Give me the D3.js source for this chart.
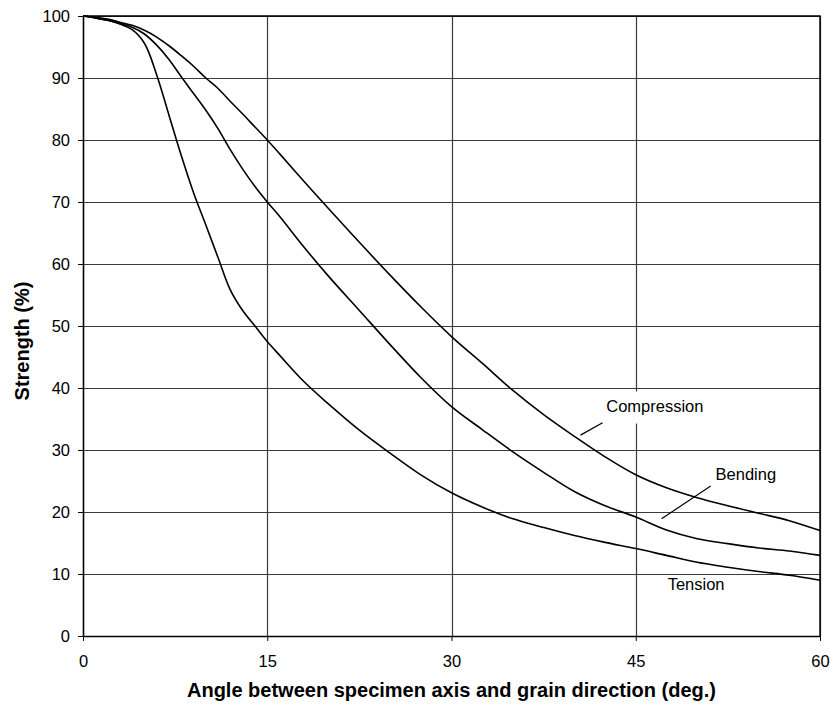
<!DOCTYPE html>
<html>
<head>
<meta charset="utf-8">
<script src="https://cdn.jsdelivr.net/npm/d3@7"></script>
<style>
  body { margin: 0; background: #fff; }
  svg text { font-family: "Liberation Sans", Arial, sans-serif; fill: #000; }
  .tick text { font-size: 16.5px; }
  .axis-title { font-size: 20px; font-weight: bold; }
  .curve-label { font-size: 16.5px; }
</style>
</head>
<body>
<div id="chart"></div>
<script>
// angle (deg.) at which each strength value was read
var angles = [0, 1, 2, 3, 4, 5, 6, 7, 8, 9, 10, 11, 12, 13, 14, 15, 16, 18, 20, 22.5, 25, 27.5, 30,
              32.5, 35, 37.5, 40, 42.5, 45, 47.5, 50, 52.5, 55, 57.5, 60];

// strength (%) per curve
var compression = [100, 99.8, 99.5, 99.0, 98.5, 97.7, 96.6, 95.2, 93.6, 91.9, 90.0, 88.3, 86.2, 84.2, 82.1, 80.0,
                   77.8, 73.3, 68.9, 63.5, 58.2, 53.1, 48.3, 44.0, 39.6, 35.7, 32.2, 28.9, 26.0, 23.9,
                   22.3, 21.0, 19.8, 18.6, 17.0];
var bending = [100, 99.7, 99.3, 98.8, 98.2, 97.1, 95.3, 93.0, 90.2, 87.5, 84.8, 81.8, 78.4, 75.3, 72.5, 70.0,
               67.7, 62.7, 58.0, 52.5, 47.0, 41.7, 37.0, 33.3, 29.7, 26.4, 23.3, 21.0, 19.2, 17.1,
               15.7, 14.9, 14.2, 13.7, 13.0];
var tension = [100, 99.7, 99.3, 98.7, 97.8, 95.6, 90.5, 84.0, 77.5, 71.5, 66.3, 61.0, 55.8, 52.5, 50.0, 47.5,
               45.3, 41.0, 37.4, 33.2, 29.5, 26.0, 23.1, 20.8, 18.9, 17.5, 16.2, 15.1, 14.1, 13.0,
               11.9, 11.1, 10.4, 9.8, 9.0];

var xTicks = [0, 15, 30, 45, 60];
var yTicks = [0, 10, 20, 30, 40, 50, 60, 70, 80, 90, 100];

// curve labels: text, label position, leader line (all in data units)
var labels = [
  {name: "Compression", x: 42.6, y: 36.2, lead: [[40.5, 32.4], [42.3, 34.4]], box: true},
  {name: "Bending",     x: 51.5, y: 25.2, lead: [[47.1, 18.9], [51.1, 24.2]], box: false},
  {name: "Tension",     x: 47.6, y: 7.5,  lead: null, box: false}
];

var W = 830, H = 704;
var margin = {top: 16, right: 10, bottom: 68, left: 83};

var x = d3.scaleLinear().domain([0, 60]).range([margin.left, W - margin.right]);
var y = d3.scaleLinear().domain([0, 100]).range([H - margin.bottom, margin.top]);

var svg = d3.select("#chart").append("svg")
    .attr("width", W)
    .attr("height", H);

// grid
svg.append("g")
    .selectAll("line")
    .data(yTicks.slice(1))
    .enter().append("line")
    .attr("x1", x(0)).attr("x2", x(60))
    .attr("y1", function(d) { return Math.round(y(d)) + 0.5; })
    .attr("y2", function(d) { return Math.round(y(d)) + 0.5; })
    .attr("stroke", "#3a3a3a")
    .attr("stroke-width", 1.2);

svg.append("g")
    .selectAll("line")
    .data(xTicks.slice(1))
    .enter().append("line")
    .attr("x1", function(d) { return Math.round(x(d)) + 0.5; })
    .attr("x2", function(d) { return Math.round(x(d)) + 0.5; })
    .attr("y1", y(0)).attr("y2", y(100))
    .attr("stroke", "#3a3a3a")
    .attr("stroke-width", 1.2);

// white box behind compression label (hides grid)
labels.filter(function(d) { return d.box; }).forEach(function(d) {
  svg.append("rect")
    .attr("x", x(d.x) - 6)
    .attr("y", y(d.y) - 20)
    .attr("width", x(d.x + 8.9) - x(d.x))
    .attr("height", 32)
    .attr("fill", "#fff");
});

// axes
var xAxis = d3.axisBottom(x).tickValues(xTicks).tickSize(5).tickSizeOuter(0).tickPadding(14);
var yAxis = d3.axisLeft(y).tickValues(yTicks).tickSize(5).tickSizeOuter(0).tickPadding(8);

var gX = svg.append("g")
    .attr("transform", "translate(0," + y(0) + ")")
    .call(xAxis);
var gY = svg.append("g")
    .attr("transform", "translate(" + x(0) + ",0)")
    .call(yAxis);

gX.select(".domain").attr("stroke-width", 1.6);
gY.select(".domain").attr("stroke-width", 1.6);
svg.selectAll(".tick line").attr("stroke", "#000");
svg.selectAll(".tick text").attr("font-family", null).attr("font-size", null);

// top and right frame
svg.append("path")
    .attr("d", "M" + x(0) + "," + y(100) + "H" + x(60) + "V" + y(0))
    .attr("fill", "none")
    .attr("stroke", "#000")
    .attr("stroke-width", 1.4);

// curves
var line = d3.line()
    .x(function(d) { return x(d[0]); })
    .y(function(d) { return y(d[1]); })
    .curve(d3.curveCatmullRom.alpha(0.5));

[compression, bending, tension].forEach(function(series) {
  svg.append("path")
    .datum(angles.map(function(a, i) { return [a, series[i]]; }))
    .attr("d", line)
    .attr("fill", "none")
    .attr("stroke", "#000")
    .attr("stroke-width", 1.6);
});

// labels and leader lines
labels.forEach(function(d) {
  svg.append("text")
    .attr("class", "curve-label")
    .attr("x", x(d.x))
    .attr("y", y(d.y))
    .text(d.name);
  if (d.lead) {
    svg.append("line")
      .attr("x1", x(d.lead[0][0])).attr("y1", y(d.lead[0][1]))
      .attr("x2", x(d.lead[1][0])).attr("y2", y(d.lead[1][1]))
      .attr("stroke", "#000")
      .attr("stroke-width", 1.2);
  }
});

// axis titles
svg.append("text")
    .attr("class", "axis-title")
    .attr("text-anchor", "middle")
    .attr("x", (x(0) + x(60)) / 2)
    .attr("y", 697)
    .text("Angle between specimen axis and grain direction (deg.)");

svg.append("text")
    .attr("class", "axis-title")
    .attr("text-anchor", "middle")
    .attr("transform", "translate(29," + ((y(0) + y(100)) / 2 + 15) + ") rotate(-90)")
    .text("Strength (%)");
</script>
</body>
</html>
